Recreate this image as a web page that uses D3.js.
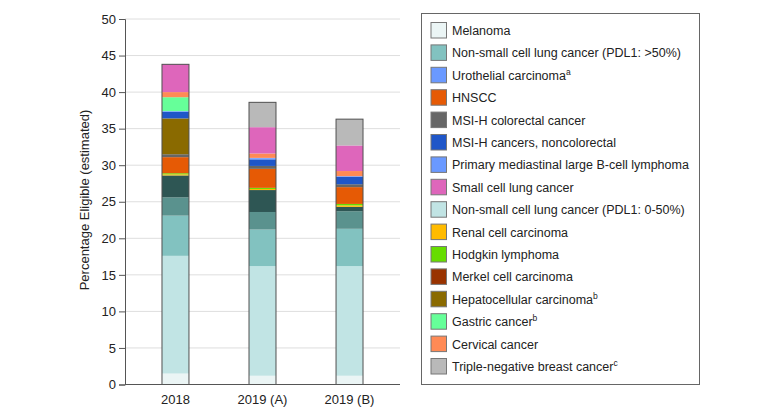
<!DOCTYPE html>
<html><head><meta charset="utf-8">
<script src="https://cdn.jsdelivr.net/npm/d3@7"></script>
<style>body{margin:0;background:#fff}svg{display:block}text{font-family:"Liberation Sans",Arial,sans-serif;fill:#222}</style>
</head><body><svg id="c" width="780" height="418"></svg>
<script>
// Categories (bars)
const categories = ["2018", "2019 (A)", "2019 (B)"];
// Y tick values
const yTicks = [0, 5, 10, 15, 20, 25, 30, 35, 40, 45, 50];
// Stack order from bottom to top
const seriesKeys = ["mel","nsclcLow","nsclcHigh","extraA","extraB","renal","hodgkin","merkel","hnscc","msiCrc","hcc","msiNon","urothelial","pmbcl","gastric","cervical","sclc","tnbc"];
const seriesColors = ["#ebf5f5","#c1e4e4","#82c2c0","#5a928e","#2e5654","#ffbb00","#66dd00","#993300","#e65a05","#666666","#8a6a00","#1f56c8","#6a99ff","#6a99ff","#66ff99","#ff8a55","#de66bb","#b9b9b9"];
const mel        = [1.5, 1.2, 1.2];
const nsclcLow   = [16.1, 15.0, 15.0];
const nsclcHigh  = [5.5, 5.0, 5.1];
const extraA     = [2.5, 2.4, 2.4];
const extraB     = [3.0, 3.0, 0.6];
const renal      = [0.15, 0.15, 0.2];
const hodgkin    = [0.15, 0.15, 0.2];
const merkel     = [0.0, 0.0, 0.0];
const hnscc      = [2.2, 2.6, 2.3];
const msiCrc     = [0.4, 0.4, 0.4];
const hcc        = [4.9, 0.0, 0.0];
const msiNon     = [0.9, 0.9, 1.0];
const urothelial = [0.1, 0.15, 0.1];
const pmbcl      = [0.0, 0.05, 0.0];
const gastric    = [1.9, 0.0, 0.0];
const cervical   = [0.7, 0.6, 0.7];
const sclc       = [3.8, 3.6, 3.5];
const tnbc       = [0.0, 3.4, 3.6];
const seriesValues = {mel,nsclcLow,nsclcHigh,extraA,extraB,renal,hodgkin,merkel,hnscc,msiCrc,hcc,msiNon,urothelial,pmbcl,gastric,cervical,sclc,tnbc};

// Legend
const legendLabels = ["Melanoma","Non-small cell lung cancer (PDL1: >50%)","Urothelial carcinoma","HNSCC","MSI-H colorectal cancer","MSI-H cancers, noncolorectal","Primary mediastinal large B-cell lymphoma","Small cell lung cancer","Non-small cell lung cancer (PDL1: 0-50%)","Renal cell carcinoma","Hodgkin lymphoma","Merkel cell carcinoma","Hepatocellular carcinoma","Gastric cancer","Cervical cancer","Triple-negative breast cancer"];
const legendSup = ["","","a","","","","","","","","","","b","b","","c"];
const legendColors = ["#ebf5f5","#82c2c0","#6a99ff","#e65a05","#666666","#1f56c8","#6a99ff","#de66bb","#c1e4e4","#ffbb00","#66dd00","#993300","#8a6a00","#66ff99","#ff8a55","#b9b9b9"];
const yLabel = "Percentage Eligible (estimated)";

const svg = d3.select("#c");
const x = d3.scaleBand().domain(categories).range([125, 400]).paddingInner(0.69).paddingOuter(0.425);
const y = d3.scaleLinear().domain([0, 50]).range([384.5, 19]);

// gridlines
svg.append("g").selectAll("line").data(yTicks.filter(d => d > 0)).join("line")
  .attr("x1", 125).attr("x2", 400).attr("y1", d => y(d)).attr("y2", d => y(d))
  .attr("stroke", "#dedede").attr("stroke-width", 1);

// stacked data
const rows = categories.map((c, i) => { const r = {cat: c}; seriesKeys.forEach(k => r[k] = seriesValues[k][i]); return r; });
const stack = d3.stack().keys(seriesKeys)(rows);
const color = d3.scaleOrdinal().domain(seriesKeys).range(seriesColors);

svg.append("g").selectAll("g").data(stack).join("g").attr("fill", d => color(d.key))
  .selectAll("rect").data(d => d).join("rect")
  .attr("x", d => x(d.data.cat)).attr("width", x.bandwidth())
  .attr("y", d => y(d[1])).attr("height", d => Math.max(0, y(d[0]) - y(d[1])));

// bar outline
svg.append("g").selectAll("rect").data(rows).join("rect")
  .attr("x", d => x(d.cat)).attr("width", x.bandwidth())
  .attr("y", d => y(d3.sum(seriesKeys, k => d[k])))
  .attr("height", d => y(0) - y(d3.sum(seriesKeys, k => d[k])))
  .attr("fill", "none").attr("stroke", "#505050").attr("stroke-width", 1);

// axes
const yAxis = svg.append("g").attr("transform", "translate(125,0)")
  .call(d3.axisLeft(y).tickValues(yTicks).tickSize(6).tickPadding(3));
yAxis.select(".domain").attr("stroke", "#555");
yAxis.selectAll(".tick line").attr("stroke", "#555");
yAxis.selectAll("text").style("font-size", "13px").attr("fill", "#222");

const xAxis = svg.append("g").attr("transform", `translate(0,${y(0)})`)
  .call(d3.axisBottom(x).tickSize(0).tickPadding(10));
xAxis.select(".domain").attr("d", "M125,0H400").attr("stroke", "#555");
xAxis.selectAll("text").style("font-size", "13px").attr("fill", "#222");

svg.append("text").attr("transform", "translate(89,200) rotate(-90)")
  .attr("text-anchor", "middle").style("font-size", "13px").text(yLabel);

// legend
const lg = svg.append("g");
lg.append("rect").attr("x", 421.5).attr("y", 13.5).attr("width", 278).attr("height", 371)
  .attr("fill", "#fff").attr("stroke", "#666");
const items = lg.selectAll("g.item").data(legendLabels).join("g").attr("class", "item")
  .attr("transform", (d, i) => `translate(431,${22.5 + i * 22.4})`);
items.append("rect").attr("width", 15.5).attr("height", 15.5)
  .attr("fill", (d, i) => legendColors[i]).attr("stroke", "#777");
const t = items.append("text").attr("x", 21).attr("y", 12.5).style("font-size", "12.5px");
t.append("tspan").text(d => d);
t.append("tspan").attr("dy", -5).style("font-size", "8.5px").text((d, i) => legendSup[i]);
</script></body></html>
